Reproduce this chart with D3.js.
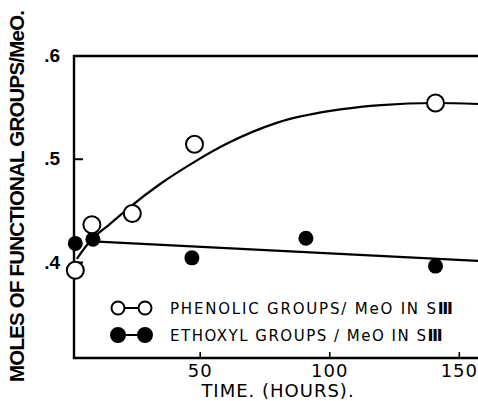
<!DOCTYPE html>
<html>
<head>
<meta charset="utf-8">
<script src="https://cdn.jsdelivr.net/npm/d3@7"></script>
<style>
  body { margin: 0; background: #fff; }
  svg { display: block; }
</style>
</head>
<body>
<svg id="chart"></svg>
<script>
// phenolic groups / MeO (open circles)
const phenolHours = [2, 8.4, 24, 48, 141];
const phenolVals = [0.392, 0.436, 0.447, 0.514, 0.554];
// ethoxyl groups / MeO (filled circles)
const ethoxHours = [2, 8.8, 47, 91, 141];
const ethoxVals = [0.418, 0.422, 0.404, 0.423, 0.396];
// hand drawn curve through phenolic points
const phenolCurveHours = [2.6, 8, 15, 22, 35, 48, 60, 80, 105, 120, 141, 157.4];
const phenolCurveVals = [0.403, 0.421, 0.436, 0.451, 0.476, 0.497, 0.514, 0.535, 0.548, 0.552, 0.554, 0.553];
// straight line for ethoxyl
const ethoxLineHours = [8.8, 157.4];
const ethoxLineVals = [0.420, 0.401];

const xTicks = [50, 100, 150];
const yTicks = [0.4, 0.5, 0.6];
const legendLabels = ['PHENOLIC GROUPS/ MeO IN  S', 'ETHOXYL GROUPS / MeO IN  S'];

const w = 478;
const h = 401;
const padLeft = 74, padRight = 478, padTop = 56, padBottom = 358;

const svg = d3.select('#chart').attr('width', w).attr('height', h);

const xScale = d3.scaleLinear().domain([1.5, 157.4]).range([padLeft, padRight]);
const yScale = d3.scaleLinear().domain([0.307, 0.5995]).range([padBottom, padTop]);

// frame: left, top, bottom
svg.append('path')
   .attr('d', 'M' + padRight + ',' + padTop + 'H' + padLeft + 'V' + padBottom + 'H' + padRight)
   .attr('fill', 'none')
   .attr('stroke', '#000')
   .attr('stroke-width', 2.4);

const yAxis = d3.axisLeft(yScale)
                .tickValues(yTicks)
                .tickSizeInner(-9)
                .tickSizeOuter(0)
                .tickPadding(14)
                .tickFormat((d) => d3.format('.1f')(d).replace(/^0/, ''));

const gy = svg.append('g')
   .attr('transform', 'translate(' + padLeft + ',0)')
   .call(yAxis);
gy.select('.domain').remove();
gy.selectAll('line').attr('stroke-width', 2);
gy.selectAll('text')
  .attr('font-family', 'Liberation Sans, Arial, sans-serif')
  .attr('font-weight', 'bold')
  .attr('font-size', 19)
  .attr('fill', '#000');

const xAxis = d3.axisBottom(xScale)
                .tickValues(xTicks)
                .tickSizeInner(-6)
                .tickSizeOuter(0)
                .tickPadding(6)
                .tickFormat(d3.format('d'));

const gx = svg.append('g')
   .attr('transform', 'translate(0,' + padBottom + ')')
   .call(xAxis);
gx.select('.domain').remove();
gx.selectAll('line').attr('stroke-width', 1.6);
gx.selectAll('text')
  .attr('font-family', 'DejaVu Sans, sans-serif')
  .attr('font-size', 18)
  .attr('letter-spacing', 1)
  .attr('fill', '#000');

// axis titles
svg.append('text')
   .attr('x', 278)
   .attr('y', 397)
   .attr('text-anchor', 'middle')
   .attr('font-family', 'DejaVu Sans, sans-serif')
   .attr('font-size', 18)
   .attr('letter-spacing', 1)
   .text('TIME. (HOURS).');

svg.append('text')
   .attr('transform', 'translate(24,196) rotate(-90)')
   .attr('text-anchor', 'middle')
   .attr('font-family', 'Liberation Sans, Arial, sans-serif')
   .attr('font-weight', 'bold')
   .attr('font-size', 20.5)
   .attr('textLength', 372)
   .attr('lengthAdjust', 'spacing')
   .text('MOLES OF FUNCTIONAL GROUPS/MeO.');

// curves
const line = d3.line()
               .x((d) => xScale(d[0]))
               .y((d) => yScale(d[1]))
               .curve(d3.curveMonotoneX);

svg.append('path')
   .attr('d', line(d3.zip(phenolCurveHours, phenolCurveVals)))
   .attr('fill', 'none')
   .attr('stroke', '#000')
   .attr('stroke-width', 2.2);

svg.append('path')
   .attr('d', d3.line().x((d) => xScale(d[0])).y((d) => yScale(d[1]))(d3.zip(ethoxLineHours, ethoxLineVals)))
   .attr('fill', 'none')
   .attr('stroke', '#000')
   .attr('stroke-width', 2.2);

// points
svg.selectAll('circle.ethox')
   .data(d3.zip(ethoxHours, ethoxVals))
   .enter()
   .append('circle')
   .attr('class', 'ethox')
   .attr('cx', (d) => xScale(d[0]))
   .attr('cy', (d) => yScale(d[1]))
   .attr('r', 7.5)
   .attr('fill', '#000');

svg.selectAll('circle.phenol')
   .data(d3.zip(phenolHours, phenolVals))
   .enter()
   .append('circle')
   .attr('class', 'phenol')
   .attr('cx', (d) => xScale(d[0]))
   .attr('cy', (d) => yScale(d[1]))
   .attr('r', 8.5)
   .attr('fill', '#fff')
   .attr('stroke', '#000')
   .attr('stroke-width', 2);

// legend
const legend = svg.append('g').attr('id', 'legend');
const legendRows = [308, 335];
for (var i = 0; i < legendLabels.length; i++) {
  const yy = legendRows[i];
  legend.append('line')
    .attr('x1', 118).attr('x2', 145)
    .attr('y1', yy).attr('y2', yy)
    .attr('stroke', '#000')
    .attr('stroke-width', 2);
  [118, 145].forEach((cx) => {
    legend.append('circle')
      .attr('cx', cx)
      .attr('cy', yy)
      .attr('r', i == 0 ? 6.5 : 7)
      .attr('fill', i == 0 ? '#fff' : '#000')
      .attr('stroke', '#000')
      .attr('stroke-width', 2);
  });
  const t = legend.append('text')
    .attr('x', 170)
    .attr('y', yy + 6)
    .attr('font-family', 'DejaVu Sans, sans-serif')
    .attr('font-size', 15);
  t.append('tspan')
    .attr('textLength', i == 0 ? 266 : 256)
    .attr('lengthAdjust', 'spacing')
    .text(legendLabels[i]);
  t.append('tspan')
    .attr('font-weight', 'bold')
    .attr('font-size', 16)
    .text('\u2162');
}
</script>
</body>
</html>
